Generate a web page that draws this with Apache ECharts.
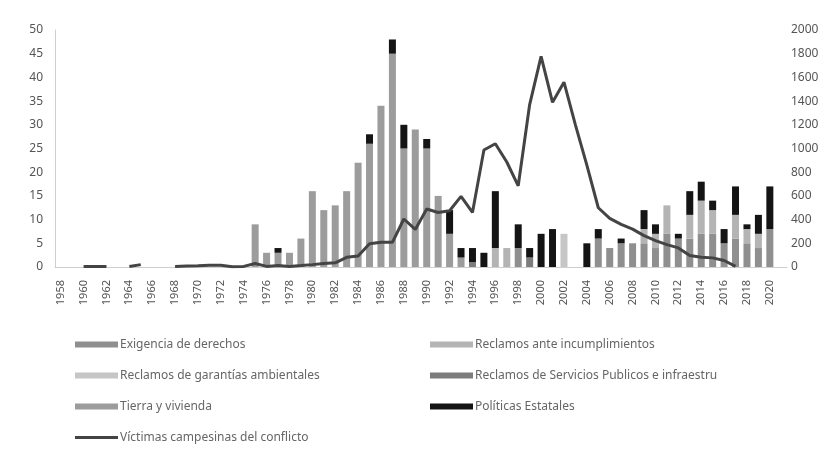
<!DOCTYPE html>
<html>
<head>
<meta charset="utf-8">
<script src="https://cdn.jsdelivr.net/npm/echarts@6/dist/echarts.min.js"></script>
<style>
  html, body { margin: 0; padding: 0; background: #fff; }
  #chart { width: 831px; height: 460px; }
</style>
</head>
<body>
<div id="chart"></div>
<script>
// años 1958 - 2021
const years = [
  '1958', '1959',
  '1960', '1961', '1962', '1963', '1964', '1965', '1966', '1967', '1968', '1969',
  '1970', '1971', '1972', '1973', '1974', '1975', '1976', '1977', '1978', '1979',
  '1980', '1981', '1982', '1983', '1984', '1985', '1986', '1987', '1988', '1989',
  '1990', '1991', '1992', '1993', '1994', '1995', '1996', '1997', '1998', '1999',
  '2000', '2001', '2002', '2003', '2004', '2005', '2006', '2007', '2008', '2009',
  '2010', '2011', '2012', '2013', '2014', '2015', '2016', '2017', '2018', '2019',
  '2020', '2021',
]

const exigencia = [
  0, 0,
  0, 0, 0, 0, 0, 0, 0, 0, 0, 0,
  0, 0, 0, 0, 0, 0, 0, 0, 0, 0,
  0, 0, 0, 0, 0, 0, 0, 0, 0, 0,
  0, 0, 0, 0, 0, 0, 0, 0, 4, 0,
  0, 0, 0, 0, 0, 6, 4, 5, 5, 5,
  4, 7, 6, 6, 7, 7, 5, 6, 5, 4,
  8, 0,
]

const incumplimientos = [
  0, 0,
  0, 0, 0, 0, 0, 0, 0, 0, 0, 0,
  0, 0, 0, 0, 0, 0, 0, 0, 0, 0,
  0, 0, 0, 0, 0, 0, 0, 0, 0, 0,
  0, 0, 0, 0, 0, 0, 4, 4, 0, 0,
  0, 0, 0, 0, 0, 0, 0, 0, 0, 3,
  3, 6, 0, 5, 7, 5, 0, 5, 3, 3,
  0, 0,
]

const garantias = [
  0, 0,
  0, 0, 0, 0, 0, 0, 0, 0, 0, 0,
  0, 0, 0, 0, 0, 0, 0, 0, 0, 0,
  0, 0, 0, 0, 0, 0, 0, 0, 0, 0,
  0, 0, 0, 0, 0, 0, 0, 0, 0, 0,
  0, 0, 7, 0, 0, 0, 0, 0, 0, 0,
  0, 0, 0, 0, 0, 0, 0, 0, 0, 0,
  0, 0,
]

const servicios = [
  0, 0,
  0, 0, 0, 0, 0, 0, 0, 0, 0, 0,
  0, 0, 0, 0, 0, 0, 0, 0, 0, 0,
  0, 0, 0, 0, 0, 0, 0, 0, 0, 0,
  0, 0, 0, 0, 1, 0, 0, 0, 0, 2,
  0, 0, 0, 0, 0, 0, 0, 0, 0, 0,
  0, 0, 0, 0, 0, 0, 0, 0, 0, 0,
  0, 0,
]

const tierra = [
  0, 0,
  0, 0, 0, 0, 0, 0, 0, 0, 0, 0,
  0, 0, 0, 0, 0, 9, 3, 3, 3, 6,
  16, 12, 13, 16, 22, 26, 34, 45, 25, 29,
  25, 15, 7, 2, 0, 0, 0, 0, 0, 0,
  0, 0, 0, 0, 0, 0, 0, 0, 0, 0,
  0, 0, 0, 0, 0, 0, 0, 0, 0, 0,
  0, 0,
]

const politicas = [
  0, 0,
  0, 0, 0, 0, 0, 0, 0, 0, 0, 0,
  0, 0, 0, 0, 0, 0, 0, 1, 0, 0,
  0, 0, 0, 0, 0, 2, 0, 3, 5, 0,
  2, 0, 5, 2, 3, 3, 12, 0, 5, 2,
  7, 8, 0, 0, 5, 2, 0, 1, 0, 4,
  2, 0, 1, 5, 4, 2, 3, 6, 1, 4,
  9, 0,
]

// eje derecho
const victimas = [
  null, null,
  5, 5, 5, null, 5, 20, null, null, 5, 8,
  10, 15, 15, 3, 5, 30, 5, 12, 5, 12,
  20, 30, 35, 82, 92, 197, 208, 208, 405, 317,
  489, 460, 475, 596, 460, 987, 1040, 886, 685, 1371,
  1777, 1390, 1560, 1200, 860, 500, 410, 360, 320, 265,
  223, 189, 161, 97, 82, 77, 55, 5, null, null,
  null, null,
]

const chart = echarts.init(document.getElementById('chart'))

function barSerie(name, data, color) {
  return {
    name: name,
    type: 'bar',
    stack: 'total',
    data: data,
    barWidth: 7,
    itemStyle: { color: color },
  }
}

const legendText = {
  fontFamily: 'Noto Sans',
  fontSize: 12,
  color: '#666',
  lineHeight: 17,
  padding: [0, 0, 0, -3],
}

chart.setOption({
  animation: false,
  textStyle: { fontFamily: 'Noto Sans' },
  grid: {
    left: 55,
    right: 44,
    top: 30,
    bottom: 193,
  },
  legend: [
    {
      orient: 'vertical',
      left: 70,
      top: 331,
      itemWidth: 43,
      itemHeight: 6,
      itemGap: 14,
      textStyle: legendText,
      data: [
        { name: 'Exigencia de derechos', icon: 'rect' },
        { name: 'Reclamos de garantías ambientales', icon: 'rect' },
        { name: 'Tierra y vivienda', icon: 'rect' },
        { name: 'Víctimas campesinas del conflicto', icon: 'path://M0,0 L43,0 L43,3 L0,3 Z' },
      ],
    },
    {
      orient: 'vertical',
      left: 425,
      top: 331,
      itemWidth: 43,
      itemHeight: 6,
      itemGap: 14,
      textStyle: legendText,
      data: [
        { name: 'Reclamos ante incumplimientos', icon: 'rect' },
        { name: 'Reclamos de Servicios Publicos e infraestru', icon: 'rect' },
        { name: 'Políticas Estatales', icon: 'rect' },
      ],
    },
  ],
  xAxis: {
    type: 'category',
    data: years,
    axisLine: { lineStyle: { color: '#cfcfcf', width: 1 } },
    axisTick: { show: false },
    axisLabel: {
      rotate: 90,
      interval: 1,
      margin: 13,
      fontSize: 11,
      color: '#555',
    },
  },
  yAxis: [
    {
      type: 'value',
      min: 0,
      max: 50,
      interval: 5,
      axisLine: { show: true, lineStyle: { color: '#cfcfcf' } },
      axisTick: { show: false },
      splitLine: { show: false },
      axisLabel: { fontSize: 12, color: '#555', margin: 12 },
    },
    {
      type: 'value',
      min: 0,
      max: 2000,
      interval: 200,
      axisLine: { show: false },
      axisTick: { show: false },
      splitLine: { show: false },
      axisLabel: {
        fontSize: 12,
        color: '#555',
        margin: 4,
        formatter: v => String(v),
      },
    },
  ],
  series: [
    barSerie('Exigencia de derechos', exigencia, '#8f8f8f'),
    barSerie('Reclamos ante incumplimientos', incumplimientos, '#b4b4b4'),
    barSerie('Reclamos de garantías ambientales', garantias, '#c6c6c6'),
    barSerie('Reclamos de Servicios Publicos e infraestru', servicios, '#7c7c7c'),
    barSerie('Tierra y vivienda', tierra, '#9c9c9c'),
    barSerie('Políticas Estatales', politicas, '#141414'),
    {
      name: 'Víctimas campesinas del conflicto',
      type: 'line',
      yAxisIndex: 1,
      data: victimas,
      symbol: 'none',
      connectNulls: false,
      lineStyle: { color: '#444', width: 3 },
      itemStyle: { color: '#444' },
      z: 3,
    },
  ],
})
</script>
</body>
</html>
